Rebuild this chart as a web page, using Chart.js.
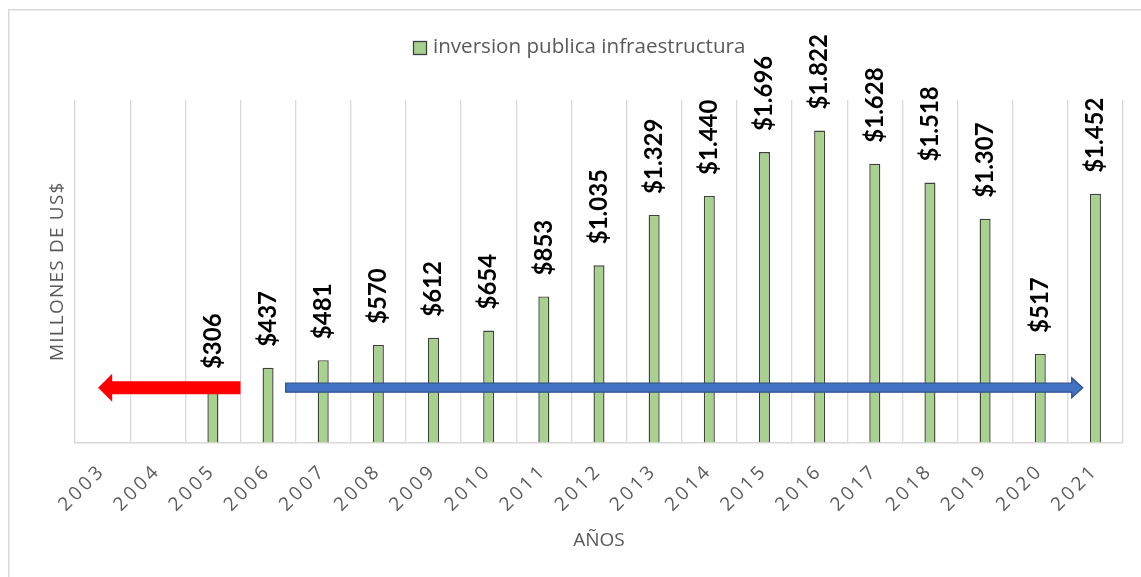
<!DOCTYPE html>
<html>
<head>
<meta charset="utf-8">
<script src="https://cdn.jsdelivr.net/npm/chart.js@4.4.0/dist/chart.umd.min.js"></script>
<style>
  html, body { margin: 0; padding: 0; background: #fff; }
  #wrap { width: 1141px; height: 577px; position: relative; }
</style>
</head>
<body>
<div id="wrap"><canvas id="myChart"></canvas></div>
<script>
const years = [
  "2003", "2004", "2005", "2006", "2007", "2008", "2009", "2010", "2011", "2012",
  "2013", "2014", "2015", "2016", "2017", "2018", "2019", "2020", "2021",
];
const inversion = [
  null, null, 306, 437, 481, 570, 612, 654, 853, 1035,
  1329, 1440, 1696, 1822, 1628, 1518, 1307, 517, 1452,
];
const seriesName = "inversion publica infraestructura";
const yTitle = "MILLONES DE US$";
const xTitle = "AÑOS";

const green = "#A9D18E";
const barEdge = "#404040";
const gray = "#595959";

function money(v) {
  return "$" + String(v).replace(/\B(?=(\d{3})+(?!\d))/g, ".");
}

// white page + the light frame around the chart
const framePlugin = {
  id: "frame",
  beforeDraw: (chart) => {
    const ctx = chart.ctx;
    ctx.save();
    ctx.fillStyle = "#fff";
    ctx.fillRect(0, 0, chart.width, chart.height);
    ctx.strokeStyle = "#d9d9d9";
    ctx.lineWidth = 1.5;
    ctx.strokeRect(8.75, 9.75, chart.width + 20, chart.height + 20);
    ctx.restore();
  },
  afterLayout: (chart) => {
    // excel-ish character spacing on the axis texts
    const xs = chart.scales.x;
    if (!xs._spaced) {
      const orig = xs.drawLabels;
      xs.drawLabels = function (area) {
        this.ctx.save();
        this.ctx.letterSpacing = "3.5px";
        orig.call(this, area);
        this.ctx.restore();
      };
      xs._spaced = true;
    }
    const ys = chart.scales.y;
    if (!ys._spaced) {
      const origT = ys.drawTitle;
      ys.drawTitle = function () {
        this.ctx.save();
        this.ctx.letterSpacing = "1.2px";
        origT.call(this);
        this.ctx.restore();
      };
      ys._spaced = true;
    }
  },
};

// legend drawn by hand so the plot top stays where it is
const legendPlugin = {
  id: "legendBox",
  afterDraw: (chart) => {
    const ctx = chart.ctx;
    ctx.save();
    ctx.fillStyle = green;
    ctx.strokeStyle = barEdge;
    ctx.lineWidth = 1.3;
    ctx.fillRect(413.5, 41.5, 13, 13);
    ctx.strokeRect(413.5, 41.5, 13, 13);
    ctx.fillStyle = gray;
    ctx.font = "20.6px 'Open Sans'";
    ctx.textBaseline = "middle";
    ctx.textAlign = "left";
    ctx.fillText(seriesName, 433, 47);
    ctx.restore();
  },
};

function arrow(ctx, x0, x1, y, half, headHalf, headLen) {
  // x0 = tail, x1 = tip
  const dir = x1 > x0 ? 1 : -1;
  const hb = x1 - dir * headLen;
  ctx.beginPath();
  ctx.moveTo(x0, y - half);
  ctx.lineTo(hb, y - half);
  ctx.lineTo(hb, y - headHalf);
  ctx.lineTo(x1, y);
  ctx.lineTo(hb, y + headHalf);
  ctx.lineTo(hb, y + half);
  ctx.lineTo(x0, y + half);
  ctx.closePath();
}

const arrowPlugin = {
  id: "arrows",
  afterDatasetsDraw: (chart) => {
    const ctx = chart.ctx;
    const x = chart.scales.x;
    const y = chart.scales.y;
    const yy = y.getPixelForValue(320);
    ctx.save();
    // red one pointing back
    arrow(ctx, x.getPixelForValue(2.5), x.getPixelForValue(-0.08), yy, 6.5, 14, 14);
    ctx.fillStyle = "#FF0000";
    ctx.fill();
    // blue one pointing forward
    arrow(ctx, x.getPixelForValue(3.32), x.getPixelForValue(17.77), yy, 4.5, 10, 11);
    ctx.fillStyle = "#4472C4";
    ctx.fill();
    ctx.strokeStyle = "#2F528F";
    ctx.lineWidth = 1.3;
    ctx.stroke();
    ctx.restore();
  },
};

const labelPlugin = {
  id: "barLabels",
  afterDatasetsDraw: (chart) => {
    const ctx = chart.ctx;
    const meta = chart.getDatasetMeta(0);
    ctx.save();
    ctx.font = "bold 24px Lato";
    ctx.fillStyle = "#000";
    ctx.textAlign = "left";
    ctx.textBaseline = "middle";
    meta.data.forEach((bar, i) => {
      const v = inversion[i];
      if (v === null) return;
      ctx.save();
      ctx.translate(bar.x, bar.y - 21);
      ctx.rotate(-Math.PI / 2);
      ctx.fillText(money(v), 0, 0);
      ctx.restore();
    });
    ctx.restore();
  },
};

const ctx = document.getElementById("myChart").getContext("2d");
const chart = new Chart(ctx, {
  type: "bar",
  data: {
    labels: years,
    datasets: [
      {
        label: seriesName,
        data: inversion,
        backgroundColor: green,
        borderColor: barEdge,
        borderWidth: 1.4,
        barPercentage: 0.2,
        categoryPercentage: 1,
      },
    ],
  },
  options: {
    responsive: true,
    maintainAspectRatio: false,
    animation: false,
    layout: { padding: { top: 100, right: 18, left: 0, bottom: 0 } },
    plugins: {
      legend: { display: false },
      tooltip: { enabled: false },
    },
    scales: {
      x: {
        grid: { color: "#d9d9d9", lineWidth: 1.3, offset: true, drawTicks: false },
        border: { color: "#d9d9d9", width: 1.5 },
        ticks: {
          color: gray,
          font: { family: "'Open Sans'", size: 19 },
          minRotation: 45,
          maxRotation: 45,
          autoSkip: false,
          padding: 17,
        },
        title: {
          display: true,
          text: xTitle,
          color: gray,
          font: { family: "'Open Sans'", size: 19 },
          padding: { top: 0, bottom: 25 },
        },
        afterFit: (s) => {
          s.height = 134.5;
        },
      },
      y: {
        min: 0,
        max: 2000,
        grid: { display: false },
        border: { display: false },
        ticks: { display: false },
        title: {
          display: true,
          text: yTitle,
          color: gray,
          font: { family: "'Open Sans'", size: 19 },
          padding: { top: 46, bottom: 0 },
        },
        afterFit: (s) => {
          s.width = 75;
        },
      },
    },
  },
  plugins: [framePlugin, arrowPlugin, labelPlugin, legendPlugin],
});
</script>
</body>
</html>
